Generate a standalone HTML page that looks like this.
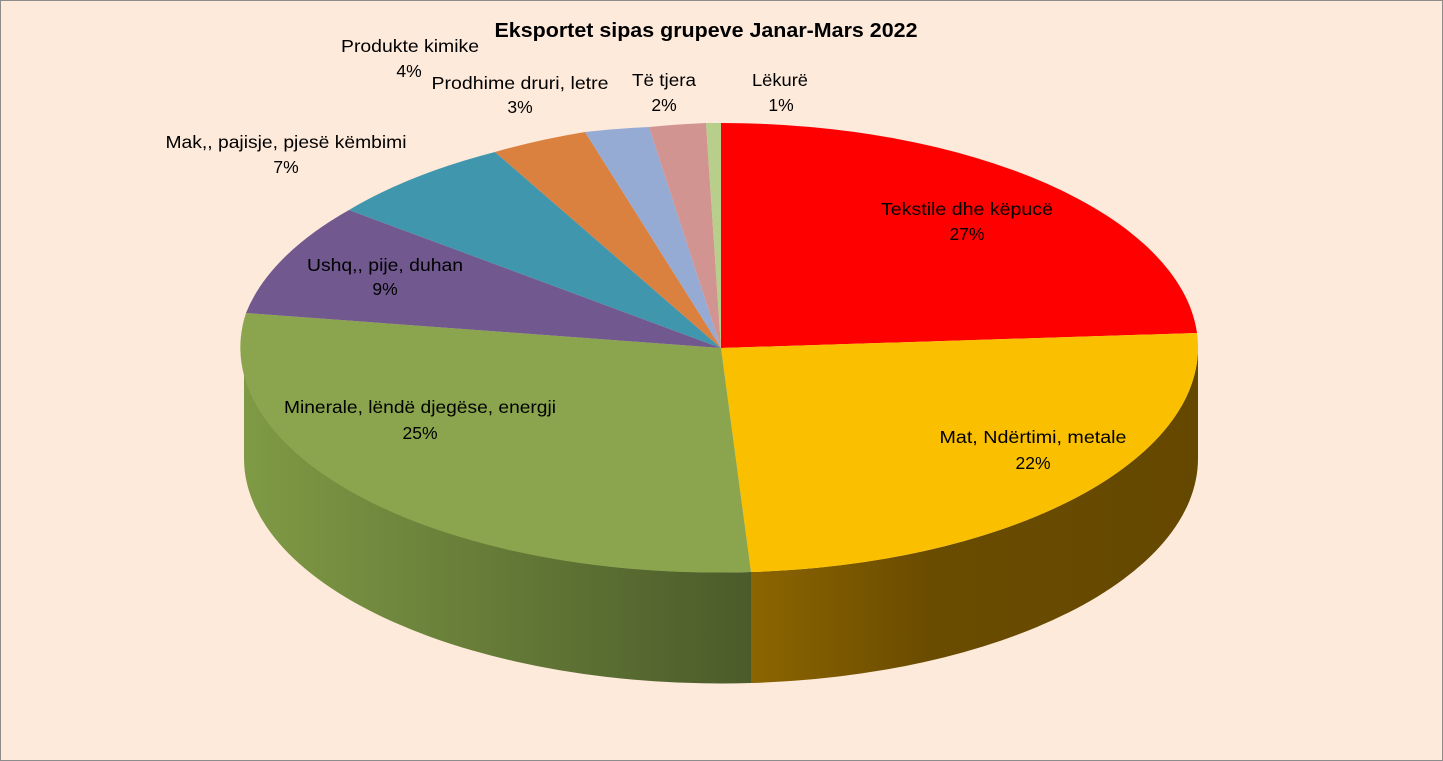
<!DOCTYPE html>
<html><head><meta charset="utf-8"><style>
html,body{margin:0;padding:0;background:#fdeadb;}
svg{display:block;font-family:"Liberation Sans",Arial,sans-serif;}
</style></head><body>
<svg width="1443" height="761" viewBox="0 0 1443 761">
<defs>
<linearGradient id="gs" x1="244" y1="0" x2="751" y2="0" gradientUnits="userSpaceOnUse">
<stop offset="0" stop-color="#7f9a45"/><stop offset="1" stop-color="#4b5b2a"/></linearGradient>
<linearGradient id="ys" x1="751" y1="0" x2="1198" y2="0" gradientUnits="userSpaceOnUse">
<stop offset="0" stop-color="#8c6500"/><stop offset="0.4" stop-color="#6a4c00"/><stop offset="1" stop-color="#654800"/></linearGradient>
</defs>
<rect x="0.5" y="0.5" width="1442" height="760" fill="#fdeadb" stroke="#8c8c8c"/>
<text x="706" y="37" font-size="20" font-weight="bold" text-anchor="middle" fill="#000" textLength="423" lengthAdjust="spacingAndGlyphs">Eksportet sipas grupeve Janar-Mars 2022</text>
<path d="M244,348 A477,225 0 0 0 751,572 L751,683 A477,225 0 0 1 244,459 Z" fill="url(#gs)"/>
<path d="M751,572 A477,225 0 0 0 1198,348 L1198,459 A477,225 0 0 1 751,683 Z" fill="url(#ys)"/>
<path d="M721,348 L721,123 A477,225 0 0 1 1197,333 Z" fill="#ff0000"/>
<path d="M721,348 L1197,333 A477,225 0 0 1 751,572 Z" fill="#fac000"/>
<path d="M721,348 L751,572 A477,225 0 0 1 246,313 Z" fill="#8aa54d"/>
<path d="M721,348 L246,313 A477,225 0 0 1 349,210 Z" fill="#71588f"/>
<path d="M721,348 L349,210 A477,225 0 0 1 495,152 Z" fill="#4096ad"/>
<path d="M721,348 L495,152 A477,225 0 0 1 585,132 Z" fill="#da8140"/>
<path d="M721,348 L585,132 A477,225 0 0 1 649,127 Z" fill="#95abd4"/>
<path d="M721,348 L649,127 A477,225 0 0 1 706,123 Z" fill="#d29491"/>
<path d="M721,348 L706,123 A477,225 0 0 1 721,123 Z" fill="#b7cf8a"/>
<g font-size="17.5" fill="#000" text-anchor="middle" lengthAdjust="spacingAndGlyphs">
<text x="967" y="215" textLength="172" lengthAdjust="spacingAndGlyphs">Tekstile dhe këpucë</text><text x="967" y="240">27%</text>
<text x="1033" y="443" textLength="187" lengthAdjust="spacingAndGlyphs">Mat, Ndërtimi, metale</text><text x="1033" y="469">22%</text>
<text x="420" y="413" textLength="272" lengthAdjust="spacingAndGlyphs">Minerale, lëndë djegëse, energji</text><text x="420" y="439">25%</text>
<text x="385" y="271" textLength="156" lengthAdjust="spacingAndGlyphs">Ushq,, pije, duhan</text><text x="385" y="295">9%</text>
<text x="286" y="148" textLength="241" lengthAdjust="spacingAndGlyphs">Mak,, pajisje, pjesë këmbimi</text><text x="286" y="173">7%</text>
<text x="410" y="52" textLength="138" lengthAdjust="spacingAndGlyphs">Produkte kimike</text><text x="409" y="77">4%</text>
<text x="520" y="89" textLength="177" lengthAdjust="spacingAndGlyphs">Prodhime druri, letre</text><text x="520" y="113">3%</text>
<text x="664" y="86" textLength="64" lengthAdjust="spacingAndGlyphs">Të tjera</text><text x="664" y="111">2%</text>
<text x="780" y="86" textLength="56" lengthAdjust="spacingAndGlyphs">Lëkurë</text><text x="781" y="111">1%</text>
</g>
</svg>
</body></html>
